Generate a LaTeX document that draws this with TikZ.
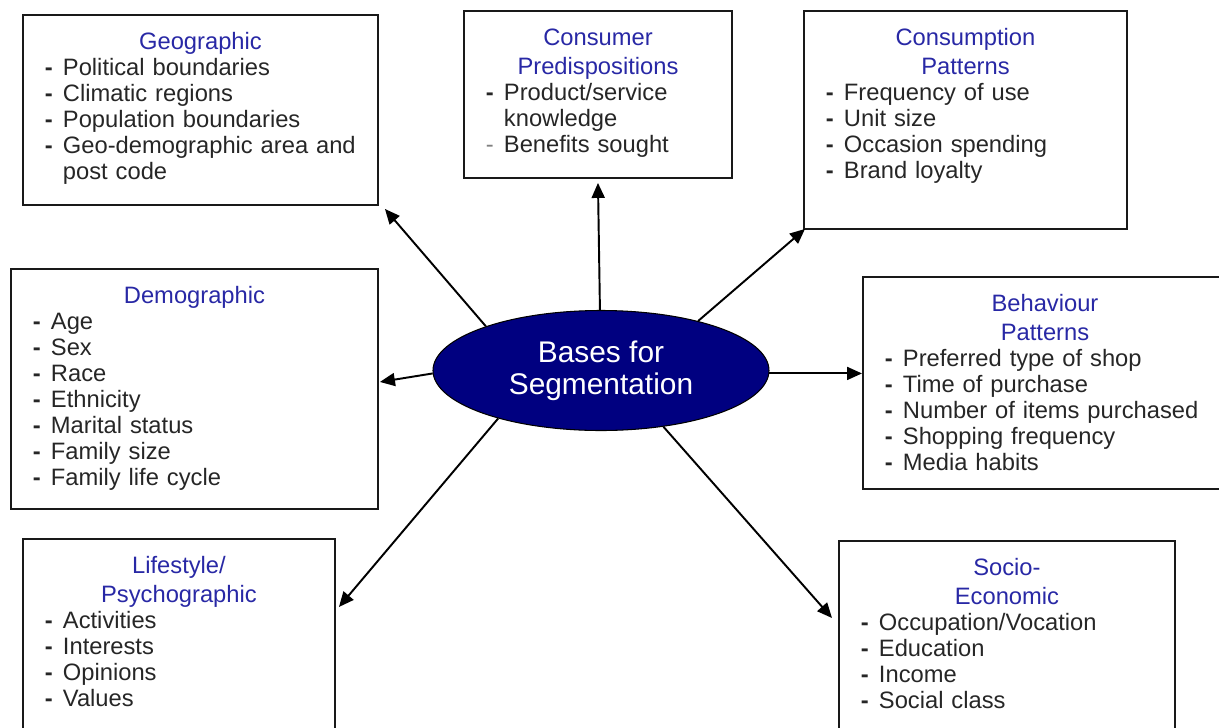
\documentclass[tikz,border=0pt]{standalone}
\usepackage{fontspec}
\setmainfont{Liberation Sans}
\usepackage{tikz}
\usetikzlibrary{arrows.meta,positioning,calc,shapes.geometric}
\definecolor{headblue}{RGB}{40,40,165}
\definecolor{hubnavy}{RGB}{0,0,128}
% list helpers: heading, bullet line, continuation line
\newcommand{\head}[1]{{\centering\fontsize{13.5}{16.5}\selectfont\color{headblue}\strut#1\par}}
\newcommand{\itm}[1]{\par\noindent\makebox[0.36cm][l]{\textbf{-}}#1}
\newcommand{\cont}[1]{\par\noindent\hspace*{0.36cm}#1}
\tikzset{
  hub/.style  ={ellipse,draw=black,line width=0.6pt,fill=hubnavy,minimum width=6.72cm,minimum height=2.40cm,
                inner sep=0pt,text=white,align=center,font=\fontsize{17}{18.2}\selectfont},
  panel/.style={rectangle,draw=black!90,line width=1.1pt,anchor=north west,inner sep=0pt},
  items/.style={anchor=north,inner sep=0pt,align=left,text=black!85,font=\fontsize{13.5}{14.8}\selectfont},
  link/.style ={line width=1.1pt,-{Triangle[length=3mm,width=2.6mm]}},
}

\begin{document}
\begin{tikzpicture}
  \useasboundingbox (0,0) rectangle (24.38,-14.54);
  % centre
  \node[hub] (seg) at (12.02,-7.41) {Bases for\\Segmentation};
  % boxes
  \node[panel,minimum width=7.10cm,minimum height=3.80cm] (geo)  at (0.44,-0.28)  {};
  \node[panel,minimum width=5.36cm,minimum height=3.34cm] (con)  at (9.26,-0.20)  {};
  \node[panel,minimum width=6.46cm,minimum height=4.36cm] (cons) at (16.06,-0.20) {};
  \node[panel,minimum width=7.34cm,minimum height=4.80cm] (dem)  at (0.20,-5.36)  {};
  \node[panel,minimum width=7.28cm,minimum height=4.24cm] (beh)  at (17.24,-5.52) {};
  \node[panel,minimum width=6.24cm,minimum height=4.20cm] (life) at (0.44,-10.76) {};
  \node[panel,minimum width=6.72cm,minimum height=4.20cm] (soc)  at (16.76,-10.80) {};
  % box texts
  \node[items,text width=6.22cm] (geo-list) at ([yshift=-0.29cm]geo.north) {\head{Geographic}
    \itm{Political boundaries}\itm{Climatic regions}\itm{Population boundaries}
    \itm{Geo-demographic area and}\cont{post code}};
  \node[items,text width=4.48cm] (con-list) at ([yshift=-0.29cm]con.north) {\head{Consumer\\Predispositions}
    \itm{Product/service}\cont{knowledge}
    \par\noindent\makebox[0.36cm][l]{\textcolor{gray}{-}}Benefits sought};
  \node[items,text width=5.58cm] (cons-list) at ([yshift=-0.29cm]cons.north) {\head{Consumption\\Patterns}
    \itm{Frequency of use}\itm{Unit size}\itm{Occasion spending}\itm{Brand loyalty}};
  \node[items,text width=6.46cm] (dem-list) at ([yshift=-0.29cm]dem.north) {\head{Demographic}
    \itm{Age}\itm{Sex}\itm{Race}\itm{Ethnicity}\itm{Marital status}\itm{Family size}\itm{Family life cycle}};
  \node[items,text width=6.40cm] (beh-list) at ([yshift=-0.29cm]beh.north) {\head{Behaviour\\Patterns}
    \itm{Preferred type of shop}\itm{Time of purchase}\itm{Number of items purchased}
    \itm{Shopping frequency}\itm{Media habits}};
  \node[items,text width=5.36cm] (life-list) at ([yshift=-0.29cm]life.north) {\head{Lifestyle/\\Psychographic}
    \itm{Activities}\itm{Interests}\itm{Opinions}\itm{Values}};
  \node[items,text width=5.84cm] (soc-list) at ([yshift=-0.29cm]soc.north) {\head{Socio-\\Economic}
    \itm{Occupation/Vocation}\itm{Education}\itm{Income}\itm{Social class}};
  % arrows out of the centre
  \draw[link] (seg.159.5) -- ([shift={(0.12,-0.06)}]geo.south east);
  \draw[link] (seg.91) -- ([yshift=-0.08cm]con.south);
  \draw[link] (seg.27) -- ([shift={(0.04,0.02)}]cons.south west);
  \draw[link] (seg.181) -- ([shift={(0.02,0.14)}]dem.east);
  \draw[link] (seg.-1.5) -- (seg.-1.5 -| beh.west);
  \draw[link] (seg.205) -- ([shift={(0.06,-1.38)}]life.north east);
  \draw[link] (seg.318) -- ([shift={(-0.12,-1.56)}]soc.north west);
\end{tikzpicture}
\end{document}
